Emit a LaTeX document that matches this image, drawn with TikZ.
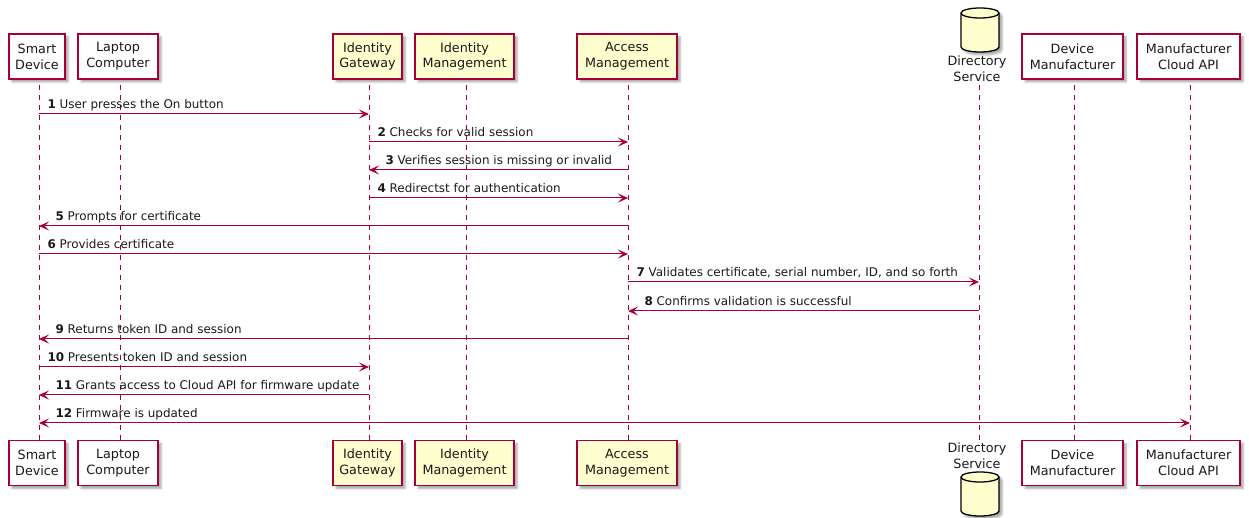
\documentclass[tikz,border=0pt]{standalone}
\usepackage{fontspec}
\setmainfont{DejaVu Sans}
\usetikzlibrary{arrows.meta,shadows.blur}
\definecolor{plBorder}{HTML}{A80036}
\definecolor{plFill}{HTML}{FEFECE}
\tikzset{
  plshadow/.style={blur shadow={shadow xshift=3bp, shadow yshift=-3bp, shadow blur steps=5, shadow opacity=35}},
  part/.style={draw=plBorder, line width=1.4bp, fill=white, minimum height=45bp, inner sep=0pt,
    align=center, font=\fontsize{12.8}{16}\selectfont, text=black!90, plshadow},
  partY/.style={part, fill=plFill},
  dbtext/.style={inner sep=0pt, align=center, font=\fontsize{12.8}{16}\selectfont, text=black!90},
  dbshape/.style={draw=black, line width=1.3bp, fill=plFill},
  life/.style={draw=plBorder, line width=0.9bp, dash pattern=on 5bp off 5bp},
  plhead/.tip={Stealth[length=10bp,width=9bp,inset=4.5bp]},
  msg/.style={draw=plBorder, line width=1bp, -plhead},
  msgb/.style={draw=plBorder, line width=1bp, plhead-plhead},
  lbl/.style={anchor=base west, inner sep=0pt, font=\fontsize{12}{14}\selectfont, text=black!90},
}
\begin{document}
\begin{tikzpicture}[x=1bp,y=-1bp]
\useasboundingbox (0,0) rectangle (1249,518);
% lifeline x positions
\coordinate (sd) at (39,0);
\coordinate (lc) at (120,0);
\coordinate (ig) at (369,0);
\coordinate (im) at (466,0);
\coordinate (am) at (628,0);
\coordinate (ds) at (979,0);
\coordinate (dm) at (1074,0);
\coordinate (mc) at (1190,0);

% top participants
\node[part,  minimum width=56bp]  (sdT) at (37,56.5)    {Smart\\Device};
\node[part,  minimum width=80bp]  (lcT) at (118,56.5)   {Laptop\\Computer};
\node[partY, minimum width=69bp]  (igT) at (367.5,56.5) {Identity\\Gateway};
\node[partY, minimum width=99bp]  (imT) at (464.5,56.5) {Identity\\Management};
\node[partY, minimum width=100bp] (amT) at (627,56.5)   {Access\\Management};
\node[part,  minimum width=101bp] (dmT) at (1072.5,56.5) {Device\\Manufacturer};
\node[part,  minimum width=103bp] (mcT) at (1188.5,56.5) {Manufacturer\\Cloud API};
\draw[dbshape, plshadow] (961,13) -- (961,47) arc[start angle=180, end angle=0, x radius=19, y radius=5]
   -- (999,13) arc[start angle=0, end angle=-180, x radius=19, y radius=5] -- cycle;
\draw[dbshape, fill=none] (961,13) arc[start angle=180, end angle=0, x radius=19, y radius=5];
\node[dbtext] (dsT) at (977,69) {Directory\\Service};

% bottom participants
\node[part,  minimum width=56bp]  (sdB) at (37,463)    {Smart\\Device};
\node[part,  minimum width=80bp]  (lcB) at (118,463)   {Laptop\\Computer};
\node[partY, minimum width=69bp]  (igB) at (367.5,463) {Identity\\Gateway};
\node[partY, minimum width=99bp]  (imB) at (464.5,463) {Identity\\Management};
\node[partY, minimum width=100bp] (amB) at (627,463)   {Access\\Management};
\node[part,  minimum width=101bp] (dmB) at (1072.5,463) {Device\\Manufacturer};
\node[part,  minimum width=103bp] (mcB) at (1188.5,463) {Manufacturer\\Cloud API};
\node[dbtext] (dsB) at (977,456) {Directory\\Service};
\draw[dbshape, plshadow] (961,477) -- (961,511) arc[start angle=180, end angle=0, x radius=19, y radius=5]
   -- (999,477) arc[start angle=0, end angle=-180, x radius=19, y radius=5] -- cycle;
\draw[dbshape, fill=none] (961,477) arc[start angle=180, end angle=0, x radius=19, y radius=5];

% lifelines
\draw[life] ([yshift=-5bp]sdT.south -| sd) -- (sdB.north -| sd);
\draw[life] ([yshift=-5bp]lcT.south -| lc) -- (lcB.north -| lc);
\draw[life] ([yshift=-5bp]igT.south -| ig) -- (igB.north -| ig);
\draw[life] ([yshift=-5bp]imT.south -| im) -- (imB.north -| im);
\draw[life] ([yshift=-5bp]amT.south -| am) -- (amB.north -| am);
\draw[life] ([yshift=-3bp]dsT.south -| ds) -- ([yshift=3bp]dsB.north -| ds);
\draw[life] ([yshift=-5bp]dmT.south -| dm) -- (dmB.north -| dm);
\draw[life] ([yshift=-5bp]mcT.south -| mc) -- (mcB.north -| mc);

% messages
\draw[msg] (sd |- 0,114) -- (ig |- 0,114) node[lbl, at start, xshift=8bp, yshift=5bp] {\textbf{1} User presses the On button};
\draw[msg] (ig |- 0,142) -- (am |- 0,142) node[lbl, at start, xshift=8bp, yshift=5bp] {\textbf{2} Checks for valid session};
\draw[msg] (am |- 0,170) -- (ig |- 0,170) node[lbl, at end, xshift=16bp, yshift=5bp] {\textbf{3} Verifies session is missing or invalid};
\draw[msg] (ig |- 0,198) -- (am |- 0,198) node[lbl, at start, xshift=8bp, yshift=5bp] {\textbf{4} Redirectst for authentication};
\draw[msg] (am |- 0,226) -- (sd |- 0,226) node[lbl, at end, xshift=16bp, yshift=5bp] {\textbf{5} Prompts for certificate};
\draw[msg] (sd |- 0,254) -- (am |- 0,254) node[lbl, at start, xshift=8bp, yshift=5bp] {\textbf{6} Provides certificate};
\draw[msg] (am |- 0,282) -- (ds |- 0,282) node[lbl, at start, xshift=8bp, yshift=5bp] {\textbf{7} Validates certificate, serial number, ID, and so forth};
\draw[msg] (ds |- 0,311) -- (am |- 0,311) node[lbl, at end, xshift=16bp, yshift=5bp] {\textbf{8} Confirms validation is successful};
\draw[msg] (am |- 0,339) -- (sd |- 0,339) node[lbl, at end, xshift=16bp, yshift=5bp] {\textbf{9} Returns token ID and session};
\draw[msg] (sd |- 0,367) -- (ig |- 0,367) node[lbl, at start, xshift=8bp, yshift=5bp] {\textbf{10} Presents token ID and session};
\draw[msg] (ig |- 0,395) -- (sd |- 0,395) node[lbl, at end, xshift=16bp, yshift=5bp] {\textbf{11} Grants access to Cloud API for firmware update};
\draw[msgb] (sd |- 0,423) -- (mc |- 0,423) node[lbl, at start, xshift=16bp, yshift=5bp] {\textbf{12} Firmware is updated};
\end{tikzpicture}
\end{document}
